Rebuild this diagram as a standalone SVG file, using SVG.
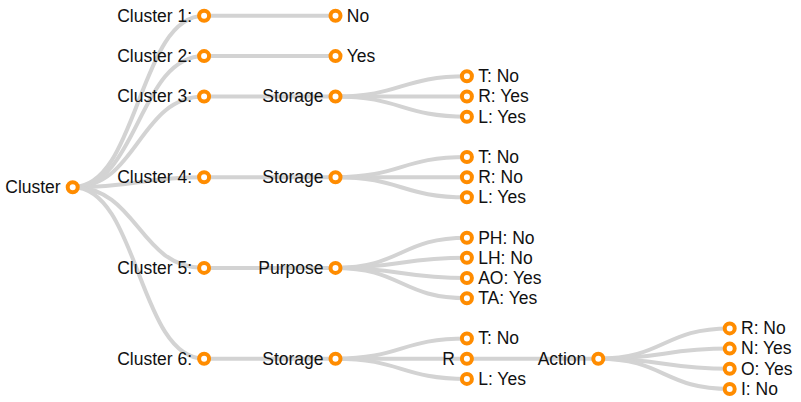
<svg xmlns="http://www.w3.org/2000/svg" width="801" height="402" viewBox="0 0 801 402">
<style>
.link{fill:none;stroke:#d3d3d3;stroke-width:4}
.node circle{fill:#fff;stroke:#ff8c00;stroke-width:4}
.node text{font-family:"Liberation Sans",Arial,sans-serif;font-size:17.5px;fill:#111}
.in{text-anchor:end}
.lf{text-anchor:start}
</style>
<rect width="801" height="402" fill="#fff"/>
<g id="links">
<path class="link" d="M72.7,187.2C138.4,187.2 138.4,15.8 204.1,15.8"/>
<path class="link" d="M72.7,187.2C138.4,187.2 138.4,56.1 204.1,56.1"/>
<path class="link" d="M72.7,187.2C138.4,187.2 138.4,96.5 204.1,96.5"/>
<path class="link" d="M72.7,187.2C138.4,187.2 138.4,177.2 204.1,177.2"/>
<path class="link" d="M72.7,187.2C138.4,187.2 138.4,267.9 204.1,267.9"/>
<path class="link" d="M72.7,187.2C138.4,187.2 138.4,358.7 204.1,358.7"/>
<path class="link" d="M204.1,15.8L335.5,15.8"/>
<path class="link" d="M204.1,56.1L335.5,56.1"/>
<path class="link" d="M204.1,96.5L335.5,96.5"/>
<path class="link" d="M204.1,177.2L335.5,177.2"/>
<path class="link" d="M204.1,267.9L335.5,267.9"/>
<path class="link" d="M204.1,358.7L335.5,358.7"/>
<path class="link" d="M335.5,96.5C401.2,96.5 401.2,76.3 466.9,76.3"/>
<path class="link" d="M335.5,96.5L466.9,96.5"/>
<path class="link" d="M335.5,96.5C401.2,96.5 401.2,116.7 466.9,116.7"/>
<path class="link" d="M335.5,177.2C401.2,177.2 401.2,157 466.9,157"/>
<path class="link" d="M335.5,177.2L466.9,177.2"/>
<path class="link" d="M335.5,177.2C401.2,177.2 401.2,197.3 466.9,197.3"/>
<path class="link" d="M335.5,267.9C401.2,267.9 401.2,237.7 466.9,237.7"/>
<path class="link" d="M335.5,267.9C401.2,267.9 401.2,257.8 466.9,257.8"/>
<path class="link" d="M335.5,267.9C401.2,267.9 401.2,278 466.9,278"/>
<path class="link" d="M335.5,267.9C401.2,267.9 401.2,298.2 466.9,298.2"/>
<path class="link" d="M335.5,358.7C401.2,358.7 401.2,338.5 466.9,338.5"/>
<path class="link" d="M335.5,358.7L466.9,358.7"/>
<path class="link" d="M335.5,358.7C401.2,358.7 401.2,378.9 466.9,378.9"/>
<path class="link" d="M466.9,358.7L598.3,358.7"/>
<path class="link" d="M598.3,358.7C664,358.7 664,328.4 729.7,328.4"/>
<path class="link" d="M598.3,358.7C664,358.7 664,348.6 729.7,348.6"/>
<path class="link" d="M598.3,358.7C664,358.7 664,368.8 729.7,368.8"/>
<path class="link" d="M598.3,358.7C664,358.7 664,389 729.7,389"/>
</g>
<g id="n-root" class="node"><circle cx="72.7" cy="187.2" r="5"/><text class="in" x="60.7" y="193">Cluster</text></g>
<g id="n-c1" class="node"><circle cx="204.1" cy="15.8" r="5"/><text class="in" x="192.1" y="21.6">Cluster 1:</text></g>
<g id="n-c2" class="node"><circle cx="204.1" cy="56.1" r="5"/><text class="in" x="192.1" y="61.9">Cluster 2:</text></g>
<g id="n-c3" class="node"><circle cx="204.1" cy="96.5" r="5"/><text class="in" x="192.1" y="102.3">Cluster 3:</text></g>
<g id="n-c4" class="node"><circle cx="204.1" cy="177.2" r="5"/><text class="in" x="192.1" y="183">Cluster 4:</text></g>
<g id="n-c5" class="node"><circle cx="204.1" cy="267.9" r="5"/><text class="in" x="192.1" y="273.7">Cluster 5:</text></g>
<g id="n-c6" class="node"><circle cx="204.1" cy="358.7" r="5"/><text class="in" x="192.1" y="364.5">Cluster 6:</text></g>
<g id="n-c1-no" class="node"><circle cx="335.5" cy="15.8" r="5"/><text class="lf" x="346.8" y="21.6">No</text></g>
<g id="n-c2-yes" class="node"><circle cx="335.5" cy="56.1" r="5"/><text class="lf" x="346.8" y="61.9">Yes</text></g>
<g id="n-c3-storage" class="node"><circle cx="335.5" cy="96.5" r="5"/><text class="in" x="323.5" y="102.3">Storage</text></g>
<g id="n-c4-storage" class="node"><circle cx="335.5" cy="177.2" r="5"/><text class="in" x="323.5" y="183">Storage</text></g>
<g id="n-c5-purpose" class="node"><circle cx="335.5" cy="267.9" r="5"/><text class="in" x="323.5" y="273.7">Purpose</text></g>
<g id="n-c6-storage" class="node"><circle cx="335.5" cy="358.7" r="5"/><text class="in" x="323.5" y="364.5">Storage</text></g>
<g id="n-c3-t" class="node"><circle cx="466.9" cy="76.3" r="5"/><text class="lf" x="478.2" y="82.1">T: No</text></g>
<g id="n-c3-r" class="node"><circle cx="466.9" cy="96.5" r="5"/><text class="lf" x="478.2" y="102.3">R: Yes</text></g>
<g id="n-c3-l" class="node"><circle cx="466.9" cy="116.7" r="5"/><text class="lf" x="478.2" y="122.5">L: Yes</text></g>
<g id="n-c4-t" class="node"><circle cx="466.9" cy="157" r="5"/><text class="lf" x="478.2" y="162.8">T: No</text></g>
<g id="n-c4-r" class="node"><circle cx="466.9" cy="177.2" r="5"/><text class="lf" x="478.2" y="183">R: No</text></g>
<g id="n-c4-l" class="node"><circle cx="466.9" cy="197.3" r="5"/><text class="lf" x="478.2" y="203.1">L: Yes</text></g>
<g id="n-c5-ph" class="node"><circle cx="466.9" cy="237.7" r="5"/><text class="lf" x="478.2" y="243.5">PH: No</text></g>
<g id="n-c5-lh" class="node"><circle cx="466.9" cy="257.8" r="5"/><text class="lf" x="478.2" y="263.6">LH: No</text></g>
<g id="n-c5-ao" class="node"><circle cx="466.9" cy="278" r="5"/><text class="lf" x="478.2" y="283.8">AO: Yes</text></g>
<g id="n-c5-ta" class="node"><circle cx="466.9" cy="298.2" r="5"/><text class="lf" x="478.2" y="304">TA: Yes</text></g>
<g id="n-c6-t" class="node"><circle cx="466.9" cy="338.5" r="5"/><text class="lf" x="478.2" y="344.3">T: No</text></g>
<g id="n-c6-r" class="node"><circle cx="466.9" cy="358.7" r="5"/><text class="in" x="454.9" y="364.5">R</text></g>
<g id="n-c6-l" class="node"><circle cx="466.9" cy="378.9" r="5"/><text class="lf" x="478.2" y="384.7">L: Yes</text></g>
<g id="n-action" class="node"><circle cx="598.3" cy="358.7" r="5"/><text class="in" x="586.3" y="364.5">Action</text></g>
<g id="n-a-r" class="node"><circle cx="729.7" cy="328.4" r="5"/><text class="lf" x="741" y="334.2">R: No</text></g>
<g id="n-a-n" class="node"><circle cx="729.7" cy="348.6" r="5"/><text class="lf" x="741" y="354.4">N: Yes</text></g>
<g id="n-a-o" class="node"><circle cx="729.7" cy="368.8" r="5"/><text class="lf" x="741" y="374.6">O: Yes</text></g>
<g id="n-a-i" class="node"><circle cx="729.7" cy="389" r="5"/><text class="lf" x="741" y="394.8">I: No</text></g>
</svg>
